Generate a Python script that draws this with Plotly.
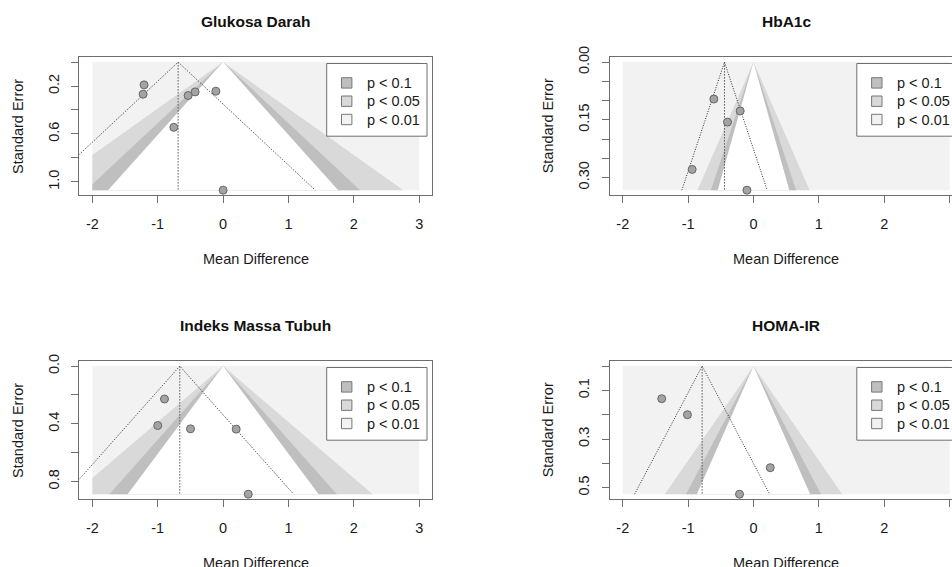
import plotly.graph_objects as go

W, H = 952, 567

# ---------------- data ----------------
titles = ["Glukosa Darah", "HbA1c", "Indeks Massa Tubuh", "HOMA-IR"]

md_glukosa = [-1.209, -1.224, -0.535, -0.428, -0.111, -0.754, 0.0]
se_glukosa = [0.190, 0.268, 0.279, 0.249, 0.243, 0.545, 1.070]

md_hba1c = [-0.607, -0.204, -0.398, -0.939, -0.101]
se_hba1c = [0.096, 0.127, 0.156, 0.279, 0.333]

md_imt = [-0.897, -1.000, -0.499, 0.200, 0.384]
se_imt = [0.228, 0.412, 0.435, 0.437, 0.888]

md_homa = [-1.404, -1.011, 0.256, -0.214]
se_homa = [0.134, 0.200, 0.418, 0.527]

pooled_md = [-0.688, -0.444, -0.663, -0.786]

x_ticks = [-2, -1, 0, 1, 2, 3]
y_ticks = [
    [0.0, 0.2, 0.4, 0.6, 0.8, 1.0],
    [0.0, 0.05, 0.10, 0.15, 0.20, 0.25, 0.30],
    [0.0, 0.2, 0.4, 0.6, 0.8],
    [0.0, 0.1, 0.2, 0.3, 0.4, 0.5],
]
y_ticklabels = [
    ["", "0.2", "", "0.6", "", "1.0"],
    ["0.00", "", "", "0.15", "", "", "0.30"],
    ["0.0", "", "0.4", "", "0.8"],
    ["", "0.1", "", "0.3", "", "0.5"],
]

contour_labels = ["p < 0.1", "p < 0.05", "p < 0.01"]
contour_z = [1.645, 1.960, 2.576]
ci_z = 1.96

# ---------------- style ----------------
FONT = "Liberation Sans, Arial, sans-serif"
AX = "#6e6e6e"
C_BACK = "#f2f2f2"
C_01 = "#bfbfbf"
C_005 = "#d9d9d9"
legend_fill = [C_01, C_005, C_BACK]

xlim = (-2, 3)
x_ext = 0.04 * (xlim[1] - xlim[0])
x_lo = xlim[0] - x_ext
x_hi_full = xlim[1] + x_ext

box_x = [(79.3, 432.3), (609.7, 962.4), (79.3, 432.3), (609.7, 962.4)]
box_y = [(57.0, 195.3), (57.0, 195.3), (361.0, 499.3), (361.0, 499.3)]

panels = [
    (md_glukosa, se_glukosa),
    (md_hba1c, se_hba1c),
    (md_imt, se_imt),
    (md_homa, se_homa),
]


def clip_x(poly, xmin, xmax):
    def clip(pts, inside, inter):
        out = []
        n = len(pts)
        for i in range(n):
            cur, prev = pts[i], pts[i - 1]
            if inside(cur):
                if not inside(prev):
                    out.append(inter(prev, cur))
                out.append(cur)
            elif inside(prev):
                out.append(inter(prev, cur))
        return out

    def at_x(xv):
        def f(p, q):
            t = (xv - p[0]) / (q[0] - p[0])
            return (xv, p[1] + t * (q[1] - p[1]))
        return f

    pts = clip(poly, lambda p: p[0] >= xmin, at_x(xmin))
    pts = clip(pts, lambda p: p[0] <= xmax, at_x(xmax))
    return pts


fig = go.Figure()
layout = {}
shapes = []
annotations = []

for i, (md, se) in enumerate(panels):
    k = i + 1
    xa = "x" if k == 1 else f"x{k}"
    ya = "y" if k == 1 else f"y{k}"
    semax = max(se)

    # background
    fig.add_trace(go.Scatter(
        x=[xlim[0], xlim[1], xlim[1], xlim[0], xlim[0]],
        y=[0, 0, semax, semax, 0], fill="toself", fillcolor=C_BACK,
        line=dict(width=0), mode="lines", hoverinfo="skip",
        showlegend=False, xaxis=xa, yaxis=ya))
    # contour regions (outer to inner)
    for z, col in [(contour_z[2], C_005), (contour_z[1], C_01), (contour_z[0], "white")]:
        tri = [(-z * semax, semax), (0.0, 0.0), (z * semax, semax)]
        poly = clip_x(tri, xlim[0], xlim[1])
        px = [p[0] for p in poly] + [poly[0][0]]
        py = [p[1] for p in poly] + [poly[0][1]]
        fig.add_trace(go.Scatter(
            x=px, y=py, fill="toself", fillcolor=col, line=dict(width=0),
            mode="lines", hoverinfo="skip", showlegend=False,
            xaxis=xa, yaxis=ya))
    est = pooled_md[i]
    # pseudo CI funnel lines
    fig.add_trace(go.Scatter(
        x=[est - ci_z * semax, est, est + ci_z * semax],
        y=[semax, 0, semax], mode="lines",
        line=dict(color="#2e2e2e", width=1, dash="1px,1.5px"),
        hoverinfo="skip", showlegend=False, xaxis=xa, yaxis=ya))
    fig.add_trace(go.Scatter(
        x=[est, est], y=[0, semax], mode="lines",
        line=dict(color="#555555", width=1, dash="1.5px,1.5px"),
        hoverinfo="skip", showlegend=False, xaxis=xa, yaxis=ya))
    # studies
    fig.add_trace(go.Scatter(
        x=md, y=se, mode="markers",
        marker=dict(size=8, color="#a3a3a3", line=dict(color="#666666", width=1)),
        showlegend=False, xaxis=xa, yaxis=ya, cliponaxis=False))

    bx0, bx1 = box_x[i]
    by0, by1 = box_y[i]
    ppu = (432.3 - 79.3) / (x_hi_full - x_lo)
    vis_right = min(bx1, W)
    x_hi = x_lo + (vis_right - bx0) / ppu
    right_clipped = bx1 > W

    xkey = "xaxis" if k == 1 else f"xaxis{k}"
    ykey = "yaxis" if k == 1 else f"yaxis{k}"
    layout[xkey] = dict(
        domain=[bx0 / W, vis_right / W], anchor=ya, range=[x_lo, x_hi],
        tickvals=x_ticks, ticktext=[str(t) for t in x_ticks],
        showgrid=False, zeroline=False, showline=True, linecolor=AX,
        linewidth=1, mirror=True, ticks="outside", ticklen=7,
        tickcolor=AX, tickwidth=1, ticklabelstandoff=8, automargin=False,
        tickfont=dict(family=FONT, size=14.5, color="#1a1a1a"))
    layout[ykey] = dict(
        domain=[1 - by1 / H, 1 - by0 / H], anchor=xa,
        range=[semax * 1.04, -semax * 0.04],
        tickvals=y_ticks[i], ticktext=y_ticklabels[i], tickangle=-90,
        showgrid=False, zeroline=False, showline=True, linecolor=AX,
        linewidth=1, mirror=(not right_clipped), ticks="outside", ticklen=7,
        tickcolor=AX, tickwidth=1, ticklabelstandoff=7, automargin=False,
        tickfont=dict(family=FONT, size=14.5, color="#1a1a1a"))

    cx = (bx0 + bx1) / 2
    # title
    annotations.append(dict(
        text="<b>" + titles[i] + "</b>", x=cx / W, y=1 - (by0 - 35.5) / H,
        xref="paper", yref="paper", showarrow=False, xanchor="center",
        yanchor="middle", font=dict(family=FONT, size=15.5, color="#111111")))
    # x title
    annotations.append(dict(
        text="Mean Difference", x=cx / W, y=1 - (by1 + 63.5) / H,
        xref="paper", yref="paper", showarrow=False, xanchor="center",
        yanchor="middle", font=dict(family=FONT, size=14.5, color="#1a1a1a")))
    # y title
    annotations.append(dict(
        text="Standard Error", x=(bx0 - 61.5) / W, y=1 - ((by0 + by1) / 2) / H,
        xref="paper", yref="paper", showarrow=False, xanchor="center",
        yanchor="middle", textangle=-90,
        font=dict(family=FONT, size=14.5, color="#1a1a1a")))

    # legend box
    lr = bx1 - 5.3
    ll = lr - 100.3
    lt = by0 + 6.5
    lb = lt + 72.7
    shapes.append(dict(type="rect", xref="paper", yref="paper",
                       x0=ll / W, x1=lr / W, y0=1 - lb / H, y1=1 - lt / H,
                       fillcolor="white", line=dict(color=AX, width=1),
                       layer="above"))
    for j, lab in enumerate(contour_labels):
        ry = lt + 19.4 + 18.3 * j
        sx = ll + 20
        shapes.append(dict(type="rect", xref="paper", yref="paper",
                           x0=(sx - 5.2) / W, x1=(sx + 5.2) / W,
                           y0=1 - (ry + 5.2) / H, y1=1 - (ry - 5.2) / H,
                           fillcolor=legend_fill[j],
                           line=dict(color="#777777", width=1), layer="above"))
        annotations.append(dict(
            text=lab, x=(ll + 38.5) / W, y=1 - ry / H, xref="paper",
            yref="paper", showarrow=False, xanchor="left", yanchor="middle",
            font=dict(family=FONT, size=14.5, color="#1a1a1a")))

fig.update_layout(
    width=W, height=H,
    margin=dict(l=0, r=0, t=0, b=0, pad=0, autoexpand=False),
    paper_bgcolor="white", plot_bgcolor="white",
    shapes=shapes, annotations=annotations, showlegend=False, **layout)

fig.write_html(
    "out.html",
    config={"displayModeBar": False},
    post_script="document.body.style.margin='0';document.body.style.overflow='hidden';")
